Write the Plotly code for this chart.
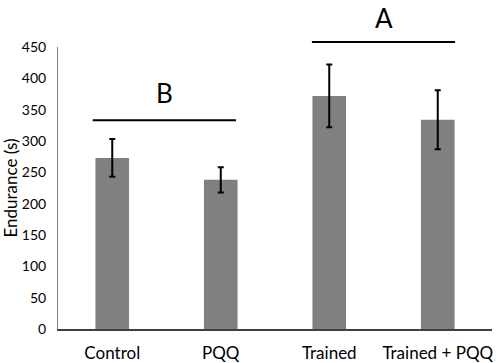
import plotly.graph_objects as go

categories = ["Control", "PQQ", "Trained", "Trained + PQQ"]
endurance = [273, 238, 372, 334]
errors = [30, 20, 50, 47]
y_ticks = [0, 50, 100, 150, 200, 250, 300, 350, 400, 450]

# group labels and bracket lines (category-index spans, level in s)
groups = [
    {"label": "B", "x0": -0.18, "x1": 1.14, "line": 333, "text_x": 0.48, "text_y": 376},
    {"label": "A", "x0": 1.84, "x1": 3.16, "line": 458, "text_x": 2.5, "text_y": 496},
]

fig = go.Figure()
fig.add_trace(go.Bar(
    x=list(range(len(categories))), y=endurance,
    marker=dict(color="#808080", line=dict(width=0)),
    error_y=dict(type="data", array=errors, color="#000000", thickness=2, width=3),
    width=0.31,
))

ymax = y_ticks[-1]
for g in groups:
    fig.add_shape(type="line", xref="x", yref="paper",
                  x0=g["x0"], x1=g["x1"], y0=g["line"] / ymax, y1=g["line"] / ymax,
                  line=dict(color="#000000", width=2))
    fig.add_annotation(x=g["text_x"], y=g["text_y"] / ymax, xref="x", yref="paper",
                       xanchor="center", yanchor="middle",
                       text=g["label"], showarrow=False,
                       font=dict(size=26, color="#000000", family="Lato"))

fig.update_layout(
    width=498, height=363,
    margin=dict(l=58, r=6, t=47, b=34),
    plot_bgcolor="white", paper_bgcolor="white",
    showlegend=False,
    font=dict(family="Lato", color="#000000"),
    xaxis=dict(
        range=[-0.5, 3.5],
        tickmode="array", tickvals=list(range(len(categories))), ticktext=categories,
        showline=True, linecolor="#404040", linewidth=1.5,
        ticks="", showgrid=False, zeroline=False,
        tickfont=dict(size=17, color="#000000"),
        ticklabelstandoff=8,
        automargin=False,
    ),
    yaxis=dict(
        range=[0, ymax], tickvals=y_ticks,
        showline=True, linecolor="#808080", linewidth=1,
        ticks="", showgrid=False, zeroline=False,
        tickfont=dict(size=14, color="#000000"),
        ticklabelstandoff=8,
        title=dict(text="Endurance (s)", font=dict(size=17, color="#000000"), standoff=6),
        automargin=False,
    ),
)

fig.write_html("out.html", config={"displayModeBar": False},
               post_script="document.body.style.margin='0';")
